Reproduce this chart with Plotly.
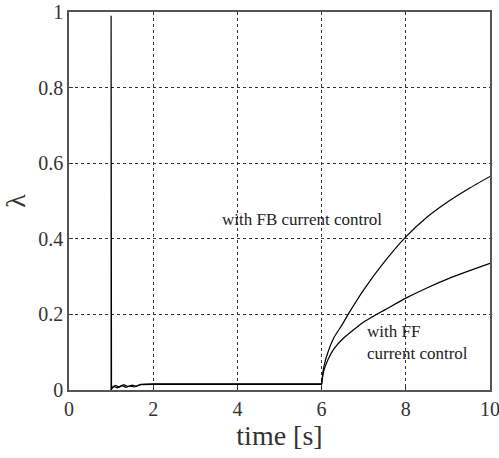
import plotly.graph_objects as go

# time [s] and lambda values for the two controllers
t_fb = [1.0, 1.0, 1.01, 1.1, 1.2, 1.3, 1.4, 1.5, 1.6, 1.7, 2.0, 6.0,
        6.05, 6.15, 6.3, 6.5, 6.63, 7.0, 7.5, 8.0, 8.5, 9.0, 9.5, 10.0]
lam_fb = [0.0, 0.99, 0.004, 0.012, 0.008, 0.014, 0.009, 0.013, 0.010, 0.015, 0.016, 0.016,
          0.06, 0.10, 0.14, 0.175, 0.20, 0.265, 0.34, 0.405, 0.457, 0.498, 0.533, 0.565]

t_ff = [1.0, 1.05, 1.15, 1.25, 1.35, 1.45, 1.55, 1.7, 2.0, 6.0,
        6.05, 6.15, 6.3, 6.5, 7.0, 7.27, 7.5, 8.0, 8.5, 9.0, 9.5, 10.0]
lam_ff = [0.0, 0.010, 0.006, 0.012, 0.007, 0.011, 0.008, 0.014, 0.015, 0.015,
          0.05, 0.08, 0.11, 0.135, 0.18, 0.198, 0.212, 0.243, 0.27, 0.294, 0.315, 0.335]

x_ticks = [0, 2, 4, 6, 8, 10]
y_ticks = [0, 0.2, 0.4, 0.6, 0.8, 1]
y_tick_text = ["0", "0.2", "0.4", "0.6", "0.8", "1"]

FONT = "Liberation Serif"

fig = go.Figure()
for t, lam in ((t_fb, lam_fb), (t_ff, lam_ff)):
    k = t.index(6.0)
    # step/noise part before t = 6 s drawn straight
    fig.add_trace(go.Scatter(x=t[:k + 1], y=lam[:k + 1], mode="lines",
                             line=dict(color="black", width=1.2), showlegend=False))
    # rising part after t = 6 s drawn smooth
    fig.add_trace(go.Scatter(x=t[k:], y=lam[k:], mode="lines",
                             line=dict(color="black", width=1.2, shape="spline", smoothing=0.6),
                             showlegend=False))

fig.add_annotation(x=3.59, y=0.452, xref="x", yref="y", text="with FB current control",
                   showarrow=False, xanchor="left", yanchor="middle",
                   font=dict(family=FONT, size=17, color="#222"))
fig.add_annotation(x=7.03, y=0.125, xref="x", yref="y", text="with FF<br>current control",
                   showarrow=False, xanchor="left", yanchor="middle", align="left",
                   font=dict(family=FONT, size=17, color="#222"))

axis_common = dict(showline=True, mirror=True, linecolor="#555", linewidth=1.5,
                   showgrid=True, gridcolor="#333", griddash="dot", gridwidth=1,
                   zeroline=False, ticks="inside", ticklen=4, tickcolor="#333",
                   automargin=False, ticklabeloverflow="allow",
                   tickfont=dict(family=FONT, size=20, color="#333"))

fig.update_xaxes(range=[0, 10], tickvals=x_ticks,
                 title=dict(text="time [s]", font=dict(family=FONT, size=28, color="#333"),
                            standoff=0),
                 **axis_common)
fig.update_yaxes(range=[0, 1], tickvals=y_ticks, ticktext=y_tick_text,
                 title=dict(text="λ", font=dict(family=FONT, size=28, color="#333"),
                            standoff=4),
                 **axis_common)

fig.update_layout(width=499, height=458, plot_bgcolor="white", paper_bgcolor="white",
                  margin=dict(l=69, r=9, t=12, b=68))

fig.write_html("out.html", config={"displayModeBar": False},
               post_script="document.body.style.margin='0px';document.body.style.overflow='hidden';")
